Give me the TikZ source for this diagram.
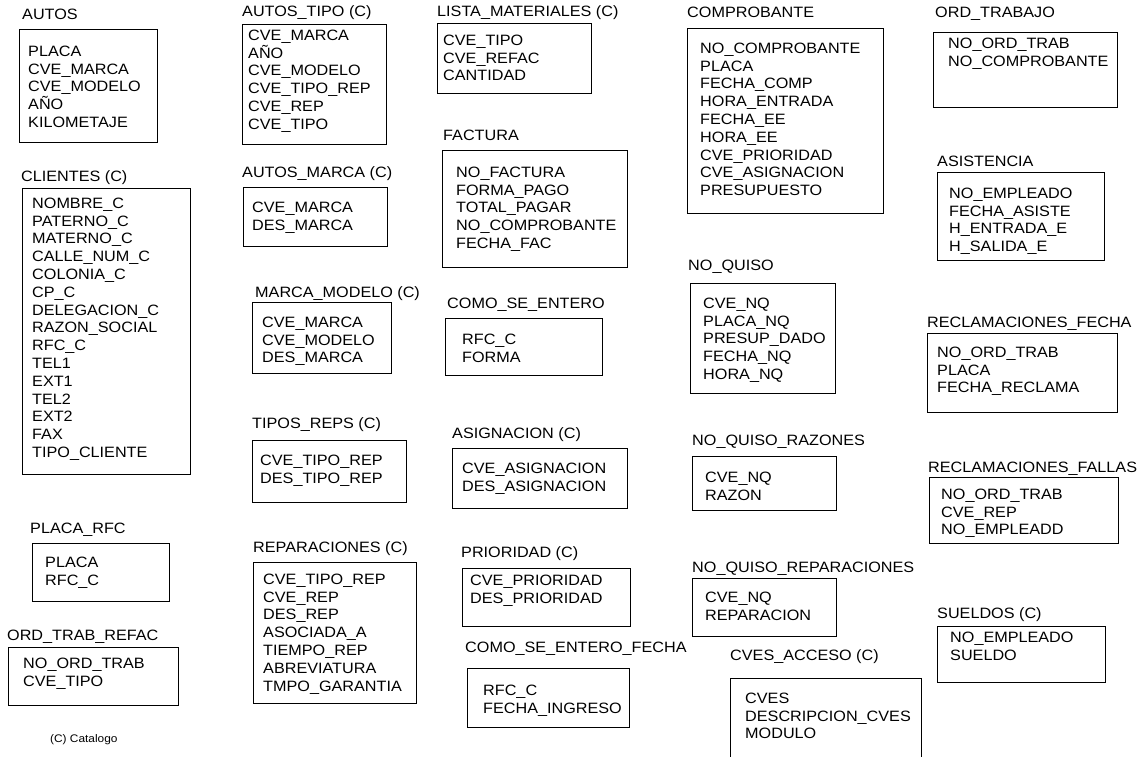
\documentclass[tikz,border=0pt]{standalone}
\usepackage{fontspec}
\setmainfont[FakeStretch=1.08]{Liberation Sans}
\begin{document}
\begin{tikzpicture}[x=1pt,y=-1pt,
  ttl/.style={anchor=base west, inner sep=0pt, font=\fontsize{15}{17.8}\selectfont},
  fld/.style={anchor=north west, inner sep=0pt, align=left, font=\fontsize{15}{17.8}\selectfont},
  tbox/.style={draw, line width=1.3pt, anchor=north west, inner sep=0pt}]
\useasboundingbox (0,0) rectangle (1143,757);
\clip (0,0) rectangle (1143,757);
% column 1
\node[ttl] (autosT) at (22,20) {AUTOS};
\node[tbox, minimum width=138pt, minimum height=113pt] (autosB) at (19,29) {};
\node[fld] (autosF) at (28,45.6) {PLACA\\CVE\_MARCA\\CVE\_MODELO\\AÑO\\KILOMETAJE};
\node[ttl] (cliT) at (21,182) {CLIENTES (C)};
\node[tbox, minimum width=168pt, minimum height=286pt] (cliB) at (22,188) {};
\node[fld] (cliF) at (32,197.6) {NOMBRE\_C\\PATERNO\_C\\MATERNO\_C\\CALLE\_NUM\_C\\COLONIA\_C\\CP\_C\\DELEGACION\_C\\RAZON\_SOCIAL\\RFC\_C\\TEL1\\EXT1\\TEL2\\EXT2\\FAX\\TIPO\_CLIENTE};
\node[ttl] (prT) at (30,533) {PLACA\_RFC};
\node[tbox, minimum width=137pt, minimum height=58pt] (prB) at (32,543) {};
\node[fld] (prF) at (45,556.6) {PLACA\\RFC\_C};
\node[ttl] (otrT) at (7,640) {ORD\_TRAB\_REFAC};
\node[tbox, minimum width=170pt, minimum height=58pt] (otrB) at (8,647) {};
\node[fld] (otrF) at (23,657.6) {NO\_ORD\_TRAB\\CVE\_TIPO};
\node[anchor=base west, inner sep=0pt, font=\fontsize{11}{13}\selectfont] (cat) at (50,742) {(C) Catalogo};
% column 2
\node[ttl] (atT) at (242,17) {AUTOS\_TIPO (C)};
\node[tbox, minimum width=144pt, minimum height=120pt] (atB) at (242,24) {};
\node[fld] (atF) at (248,29.6) {CVE\_MARCA\\AÑO\\CVE\_MODELO\\CVE\_TIPO\_REP\\CVE\_REP\\CVE\_TIPO};
\node[ttl] (amT) at (242,178) {AUTOS\_MARCA (C)};
\node[tbox, minimum width=144pt, minimum height=59pt] (amB) at (243,187) {};
\node[fld] (amF) at (252,201.6) {CVE\_MARCA\\DES\_MARCA};
\node[ttl] (mmT) at (255,297) {MARCA\_MODELO (C)};
\node[tbox, minimum width=139pt, minimum height=71pt] (mmB) at (252,302) {};
\node[fld] (mmF) at (262,316.6) {CVE\_MARCA\\CVE\_MODELO\\DES\_MARCA};
\node[ttl] (trT) at (252,428) {TIPOS\_REPS (C)};
\node[tbox, minimum width=154pt, minimum height=62pt] (trB) at (252,440) {};
\node[fld] (trF) at (260,454.6) {CVE\_TIPO\_REP\\DES\_TIPO\_REP};
\node[ttl] (repT) at (253,552) {REPARACIONES (C)};
\node[tbox, minimum width=163pt, minimum height=141pt] (repB) at (253,562) {};
\node[fld] (repF) at (263,573.6) {CVE\_TIPO\_REP\\CVE\_REP\\DES\_REP\\ASOCIADA\_A\\TIEMPO\_REP\\ABREVIATURA\\TMPO\_GARANTIA};
% column 3
\node[ttl] (lmT) at (437,17) {LISTA\_MATERIALES (C)};
\node[tbox, minimum width=154pt, minimum height=70pt] (lmB) at (437,23) {};
\node[fld] (lmF) at (443,34.6) {CVE\_TIPO\\CVE\_REFAC\\CANTIDAD};
\node[ttl] (facT) at (443,140) {FACTURA};
\node[tbox, minimum width=185pt, minimum height=117pt] (facB) at (442,150) {};
\node[fld] (facF) at (456,166.6) {NO\_FACTURA\\FORMA\_PAGO\\TOTAL\_PAGAR\\NO\_COMPROBANTE\\FECHA\_FAC};
\node[ttl] (cseT) at (447,308) {COMO\_SE\_ENTERO};
\node[tbox, minimum width=157pt, minimum height=57pt] (cseB) at (445,318) {};
\node[fld] (cseF) at (462,333.6) {RFC\_C\\FORMA};
\node[ttl] (asgT) at (452,438) {ASIGNACION (C)};
\node[tbox, minimum width=175pt, minimum height=60pt] (asgB) at (452,448) {};
\node[fld] (asgF) at (462,462.6) {CVE\_ASIGNACION\\DES\_ASIGNACION};
\node[ttl] (priT) at (461,557) {PRIORIDAD (C)};
\node[tbox, minimum width=168pt, minimum height=58pt] (priB) at (462,568) {};
\node[fld] (priF) at (470,574.6) {CVE\_PRIORIDAD\\DES\_PRIORIDAD};
\node[ttl] (csfT) at (465,652) {COMO\_SE\_ENTERO\_FECHA};
\node[tbox, minimum width=162pt, minimum height=59pt] (csfB) at (467,668) {};
\node[fld] (csfF) at (483,684.6) {RFC\_C\\FECHA\_INGRESO};
% column 4
\node[ttl] (comT) at (687,18) {COMPROBANTE};
\node[tbox, minimum width=196pt, minimum height=185pt] (comB) at (687,28) {};
\node[fld] (comF) at (700,42.6) {NO\_COMPROBANTE\\PLACA\\FECHA\_COMP\\HORA\_ENTRADA\\FECHA\_EE\\HORA\_EE\\CVE\_PRIORIDAD\\CVE\_ASIGNACION\\PRESUPUESTO};
\node[ttl] (nqT) at (688,270) {NO\_QUISO};
\node[tbox, minimum width=145pt, minimum height=110pt] (nqB) at (690,283) {};
\node[fld] (nqF) at (703,297.6) {CVE\_NQ\\PLACA\_NQ\\PRESUP\_DADO\\FECHA\_NQ\\HORA\_NQ};
\node[ttl] (nqrT) at (692,445) {NO\_QUISO\_RAZONES};
\node[tbox, minimum width=144pt, minimum height=54pt] (nqrB) at (692,456) {};
\node[fld] (nqrF) at (705,471.6) {CVE\_NQ\\RAZON};
\node[ttl] (nqpT) at (692,572) {NO\_QUISO\_REPARACIONES};
\node[tbox, minimum width=144pt, minimum height=58pt] (nqpB) at (692,578) {};
\node[fld] (nqpF) at (705,591.6) {CVE\_NQ\\REPARACION};
\node[ttl] (cvT) at (730,660) {CVES\_ACCESO (C)};
\node[tbox, minimum width=191pt, minimum height=100pt] (cvB) at (730,678) {};
\node[fld] (cvF) at (745,692.6) {CVES\\DESCRIPCION\_CVES\\MODULO};
% column 5
\node[ttl] (otT) at (935,18) {ORD\_TRABAJO};
\node[tbox, minimum width=184pt, minimum height=75pt] (otB) at (933,32) {};
\node[fld] (otF) at (948,37.6) {NO\_ORD\_TRAB\\NO\_COMPROBANTE};
\node[ttl] (asiT) at (937,167) {ASISTENCIA};
\node[tbox, minimum width=167pt, minimum height=88pt] (asiB) at (937,172) {};
\node[fld] (asiF) at (949,187.6) {NO\_EMPLEADO\\FECHA\_ASISTE\\H\_ENTRADA\_E\\H\_SALIDA\_E};
\node[ttl] (rfT) at (927,327) {RECLAMACIONES\_FECHA};
\node[tbox, minimum width=190pt, minimum height=79pt] (rfB) at (927,333) {};
\node[fld] (rfF) at (937,346.6) {NO\_ORD\_TRAB\\PLACA\\FECHA\_RECLAMA};
\node[ttl] (rflT) at (928,472) {RECLAMACIONES\_FALLAS};
\node[tbox, minimum width=189pt, minimum height=66pt] (rflB) at (929,477) {};
\node[fld] (rflF) at (941,488.6) {NO\_ORD\_TRAB\\CVE\_REP\\NO\_EMPLEADD};
\node[ttl] (suT) at (937,618) {SUELDOS (C)};
\node[tbox, minimum width=168pt, minimum height=56pt] (suB) at (937,626) {};
\node[fld] (suF) at (950,631.6) {NO\_EMPLEADO\\SUELDO};
\end{tikzpicture}
\end{document}
